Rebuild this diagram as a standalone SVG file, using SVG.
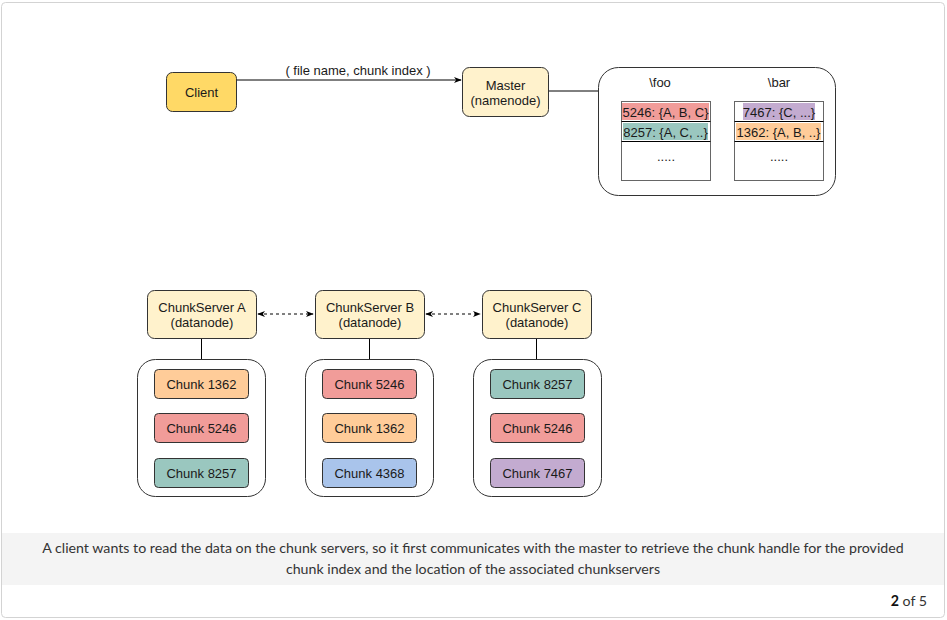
<svg xmlns="http://www.w3.org/2000/svg" width="947" height="620" viewBox="0 0 947 620">
<defs>
<style>
.t{font-family:"Liberation Sans",Arial,sans-serif;font-size:13px;fill:#1a1a1a;text-anchor:middle}
.node{stroke:#333;stroke-width:1}
.y{fill:#fff2cc}
.c1362{fill:#ffcc99}
.c5246{fill:#f19c99}
.c8257{fill:#9ac7bf}
.c4368{fill:#a9c4eb}
.c7467{fill:#c3abd0}
.cont{fill:#fff;stroke:#333;stroke-width:1}
.ln{stroke:#000;stroke-width:1;fill:none}
.dash{stroke:#000;stroke-width:1;stroke-dasharray:3 3;fill:none}
.cap{font-family:Lato,"Noto Sans",sans-serif;font-size:14.2px;fill:#333;text-anchor:middle}
</style>
<marker id="ah" viewBox="0 0 10 10" refX="9" refY="5" markerWidth="8" markerHeight="8" markerUnits="userSpaceOnUse" orient="auto-start-reverse">
<path d="M0,1 L10,5 L0,9 L3,5 Z" fill="#000"/>
</marker>
</defs>
<rect x="1.5" y="2.5" width="943" height="615" rx="4" fill="#fff" stroke="#d3d3d3"/>
<rect x="2" y="533" width="942" height="52" fill="#f4f4f4"/>

<g id="connectors">
<line class="ln" x1="236" y1="80" x2="461" y2="80" marker-end="url(#ah)"/>
<text class="t" x="358" y="75">( file name, chunk index )</text>
<line class="ln" x1="548" y1="91" x2="598" y2="91"/>
<line class="dash" x1="258" y1="314" x2="313" y2="314" marker-start="url(#ah)" marker-end="url(#ah)"/>
<line class="dash" x1="426" y1="314" x2="480" y2="314" marker-start="url(#ah)" marker-end="url(#ah)"/>
<line class="ln" x1="201.5" y1="338" x2="201.5" y2="359"/>
<line class="ln" x1="369.5" y1="338" x2="369.5" y2="359"/>
<line class="ln" x1="536.5" y1="338" x2="536.5" y2="359"/>
</g>

<g id="client">
<rect class="node" x="166.5" y="72.5" width="70" height="39" rx="6" fill="#ffd966"/>
<text class="t" x="201.5" y="97">Client</text>
</g>
<g id="master">
<rect class="node y" x="462.5" y="67.5" width="86" height="49" rx="7"/>
<text class="t" x="505.5" y="90">Master</text>
<text class="t" x="505.5" y="105">(namenode)</text>
</g>

<g id="metadata">
<rect class="cont" x="598.5" y="67.5" width="237" height="128" rx="20"/>
<text class="t" x="660" y="87">\foo</text>
<text class="t" x="779" y="87">\bar</text>
<rect x="621.5" y="101.5" width="89" height="79" fill="#fff" stroke="#666"/>
<line x1="621.5" y1="121.5" x2="710.5" y2="121.5" stroke="#000"/>
<line x1="621.5" y1="141.5" x2="710.5" y2="141.5" stroke="#000"/>
<rect x="622" y="103" width="87" height="17" class="c5246"/>
<rect x="623" y="123" width="85" height="17" class="c8257"/>
<text class="t" x="665.5" y="116.5">5246: {A, B, C}</text>
<text class="t" x="665.5" y="136.5">8257: {A, C, ..}</text>
<text class="t" x="666" y="161">.....</text>
<rect x="734.5" y="101.5" width="89" height="79" fill="#fff" stroke="#666"/>
<line x1="734.5" y1="121.5" x2="823.5" y2="121.5" stroke="#000"/>
<line x1="734.5" y1="141.5" x2="823.5" y2="141.5" stroke="#000"/>
<rect x="743" y="103" width="72" height="17" class="c7467"/>
<rect x="736" y="123" width="85" height="17" class="c1362"/>
<text class="t" x="779" y="116.5">7467: {C, ...}</text>
<text class="t" x="778.5" y="136.5">1362: {A, B, ..}</text>
<text class="t" x="779" y="161">.....</text>
</g>

<g id="serverA">
<rect class="node y" x="147.5" y="290.5" width="109" height="48" rx="7"/>
<text class="t" x="202" y="312">ChunkServer A</text>
<text class="t" x="202" y="327">(datanode)</text>
</g>
<g id="serverB">
<rect class="node y" x="315.5" y="290.5" width="109" height="48" rx="7"/>
<text class="t" x="370" y="312">ChunkServer B</text>
<text class="t" x="370" y="327">(datanode)</text>
</g>
<g id="serverC">
<rect class="node y" x="482.5" y="290.5" width="109" height="48" rx="7"/>
<text class="t" x="537" y="312">ChunkServer C</text>
<text class="t" x="537" y="327">(datanode)</text>
</g>

<g id="chunksA">
<rect class="cont" x="137.5" y="359.5" width="128" height="137" rx="18"/>
<rect class="node c1362" x="154.5" y="369.5" width="94" height="29" rx="4"/>
<text class="t" x="201.5" y="388.5">Chunk 1362</text>
<rect class="node c5246" x="154.5" y="413.5" width="94" height="29" rx="4"/>
<text class="t" x="201.5" y="432.5">Chunk 5246</text>
<rect class="node c8257" x="154.5" y="458.5" width="94" height="29" rx="4"/>
<text class="t" x="201.5" y="477.5">Chunk 8257</text>
</g>
<g id="chunksB">
<rect class="cont" x="305.5" y="359.5" width="128" height="137" rx="18"/>
<rect class="node c5246" x="322.5" y="369.5" width="94" height="29" rx="4"/>
<text class="t" x="369.5" y="388.5">Chunk 5246</text>
<rect class="node c1362" x="322.5" y="413.5" width="94" height="29" rx="4"/>
<text class="t" x="369.5" y="432.5">Chunk 1362</text>
<rect class="node c4368" x="322.5" y="458.5" width="94" height="29" rx="4"/>
<text class="t" x="369.5" y="477.5">Chunk 4368</text>
</g>
<g id="chunksC">
<rect class="cont" x="473.5" y="359.5" width="128" height="137" rx="18"/>
<rect class="node c8257" x="490.5" y="369.5" width="94" height="29" rx="4"/>
<text class="t" x="537.5" y="388.5">Chunk 8257</text>
<rect class="node c5246" x="490.5" y="413.5" width="94" height="29" rx="4"/>
<text class="t" x="537.5" y="432.5">Chunk 5246</text>
<rect class="node c7467" x="490.5" y="458.5" width="94" height="29" rx="4"/>
<text class="t" x="537.5" y="477.5">Chunk 7467</text>
</g>

<text class="cap" x="473" y="553">A client wants to read the data on the chunk servers, so it first communicates with the master to retrieve the chunk handle for the provided</text>
<text class="cap" x="473" y="574">chunk index and the location of the associated chunkservers</text>
<text x="927" y="606" style="font-family:Lato,'Noto Sans',sans-serif;font-size:14.2px;fill:#333;text-anchor:end"><tspan font-weight="bold" fill="#111">2</tspan> of 5</text>
</svg>
